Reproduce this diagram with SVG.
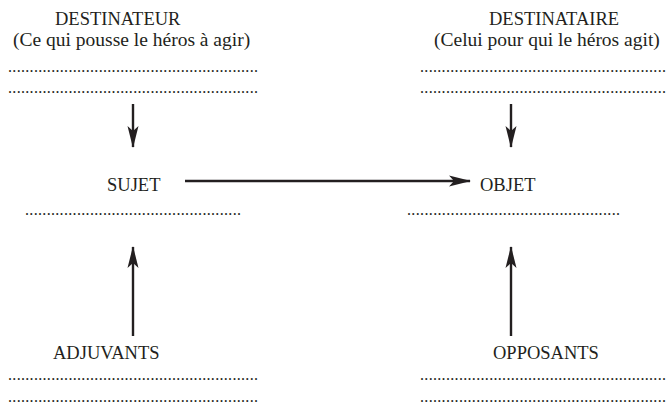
<svg xmlns="http://www.w3.org/2000/svg" width="669" height="404" viewBox="0 0 669 404">
<style>
text{font-family:"Liberation Serif","Times New Roman",serif;fill:#231f20}
.lbl{font-size:18.5px}
.sub{font-size:19.5px}
.dots{font-size:16px}
.conn line{stroke:#231f20;stroke-width:2.4;fill:none}
</style>
<defs>
<marker id="ah" markerUnits="userSpaceOnUse" viewBox="0 0 22 12" refX="21" refY="6" markerWidth="22" markerHeight="12" orient="auto">
<path d="M0,0.5 L22,6 L0,11.5 L5,6 Z" fill="#231f20"/>
</marker>
</defs>
<rect width="669" height="404" fill="#fff"/>
<g id="destinateur">
<text class="lbl" x="55" y="25">DESTINATEUR</text>
<text class="sub" x="13" y="46">(Ce qui pousse le héros à agir)</text>
<text class="dots" x="8" y="72" textLength="250" lengthAdjust="spacing">..........................................................</text>
<text class="dots" x="8" y="93" textLength="250" lengthAdjust="spacing">..........................................................</text>
</g>
<g id="destinataire">
<text class="lbl" x="489" y="25">DESTINATAIRE</text>
<text class="sub" x="434" y="46">(Celui pour qui le héros agit)</text>
<text class="dots" x="420" y="72" textLength="246" lengthAdjust="spacing">.........................................................</text>
<text class="dots" x="420" y="93" textLength="246" lengthAdjust="spacing">.........................................................</text>
</g>
<g id="sujet">
<text class="lbl" x="107" y="191">SUJET</text>
<text class="dots" x="25" y="215" textLength="216" lengthAdjust="spacing">..................................................</text>
</g>
<g id="objet">
<text class="lbl" x="480" y="191">OBJET</text>
<text class="dots" x="407" y="215" textLength="213" lengthAdjust="spacing">.................................................</text>
</g>
<g id="adjuvants">
<text class="lbl" x="53" y="359">ADJUVANTS</text>
<text class="dots" x="8" y="380" textLength="250" lengthAdjust="spacing">..........................................................</text>
<text class="dots" x="8" y="402" textLength="250" lengthAdjust="spacing">..........................................................</text>
</g>
<g id="opposants">
<text class="lbl" x="493" y="359">OPPOSANTS</text>
<text class="dots" x="420" y="380" textLength="246" lengthAdjust="spacing">.........................................................</text>
<text class="dots" x="420" y="402" textLength="246" lengthAdjust="spacing">.........................................................</text>
</g>
<g id="connectors" class="conn">
<line x1="133" y1="104" x2="133" y2="147" marker-end="url(#ah)"/>
<line x1="511" y1="104" x2="511" y2="147" marker-end="url(#ah)"/>
<line x1="185" y1="181" x2="470" y2="181" marker-end="url(#ah)"/>
<line x1="133" y1="336" x2="133" y2="247" marker-end="url(#ah)"/>
<line x1="511" y1="336" x2="511" y2="247" marker-end="url(#ah)"/>
</g>
</svg>
